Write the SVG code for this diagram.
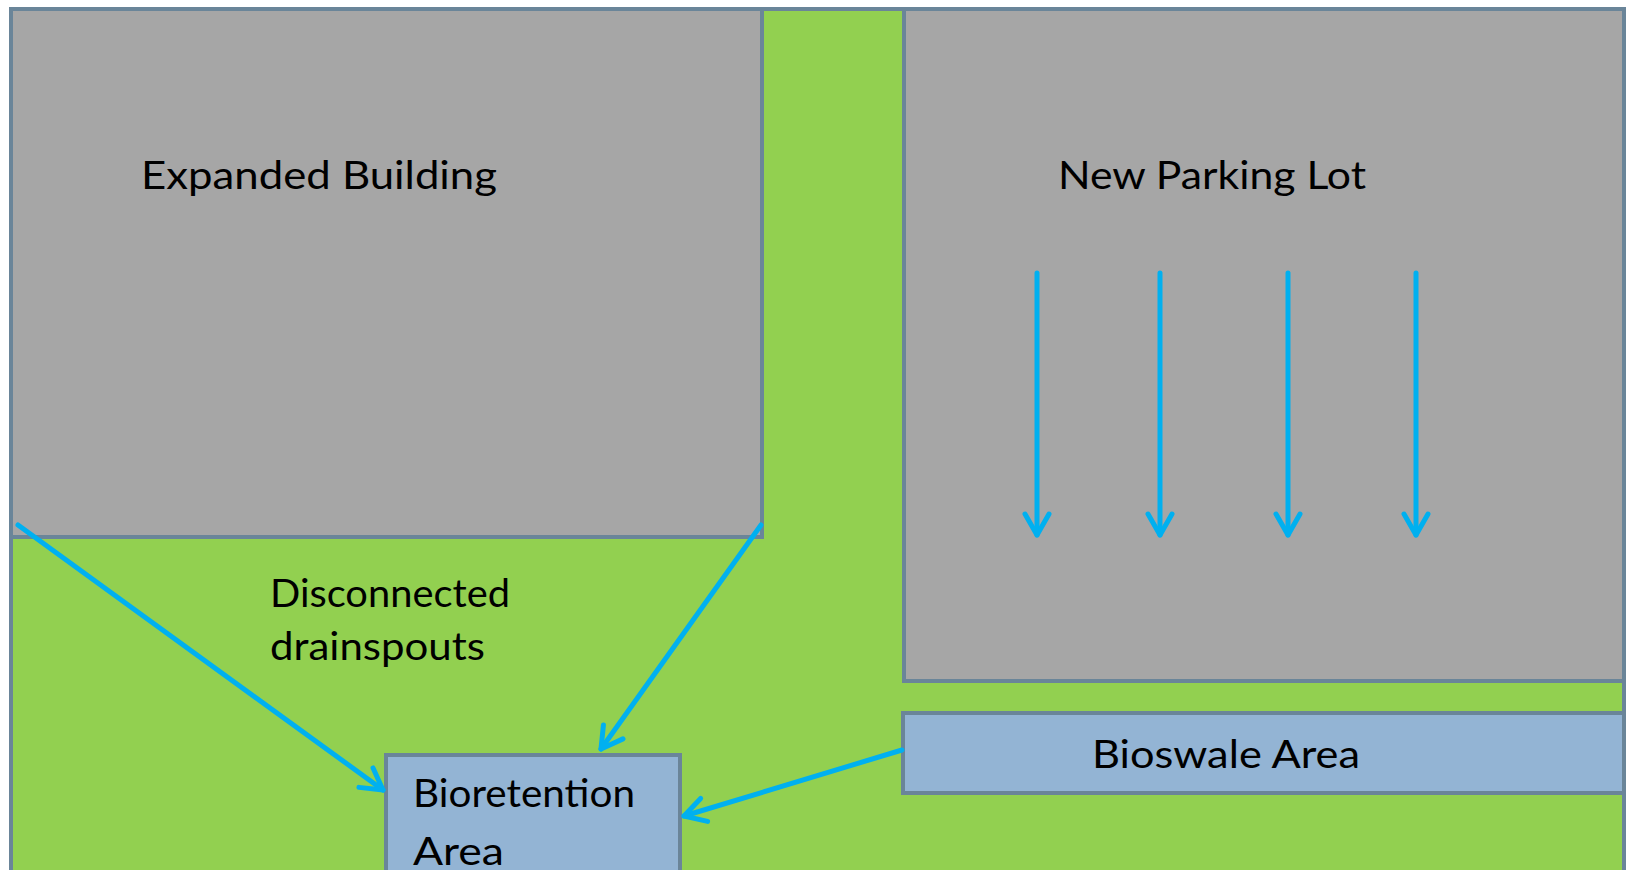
<svg xmlns="http://www.w3.org/2000/svg" width="1626" height="870" viewBox="0 0 1626 870">
<style>
.area{stroke:#6a8599;stroke-width:4}
.gray{fill:#a6a6a6}
.blue{fill:#93b4d4}
.lbl{font-family:Lato,"Open Sans","DejaVu Sans",sans-serif;font-size:38px;fill:#000}
.flow{stroke:#00b0f0;stroke-width:5;fill:none;stroke-linecap:round;marker-end:url(#ah)}
</style>
<defs>
<marker id="ah" markerUnits="userSpaceOnUse" viewBox="-26 -15 30 30" refX="0" refY="0" markerWidth="30" markerHeight="30" orient="auto">
<path d="M-21,-12 L0,0 L-21,12" fill="none" stroke="#00b0f0" stroke-width="5" stroke-linecap="round" stroke-linejoin="round"/>
</marker>
</defs>
<rect width="1626" height="870" fill="#ffffff"/>
<g id="site"><rect class="area" x="11" y="9" width="1613" height="875" fill="#92d050"/></g>
<g id="building">
<rect class="area gray" x="11" y="9" width="751" height="528"/>
<text class="lbl" x="141" y="189" textLength="356" lengthAdjust="spacingAndGlyphs">Expanded Building</text>
</g>
<g id="parking">
<rect class="area gray" x="904" y="9" width="720" height="672"/>
<text class="lbl" x="1058" y="189" textLength="308" lengthAdjust="spacingAndGlyphs">New Parking Lot</text>
</g>
<g id="drainspouts-label">
<text class="lbl" x="270" y="607" textLength="240" lengthAdjust="spacingAndGlyphs">Disconnected</text>
<text class="lbl" x="270" y="660" textLength="215" lengthAdjust="spacingAndGlyphs">drainspouts</text>
</g>
<g id="bioswale">
<rect class="area blue" x="903" y="713" width="721" height="80"/>
<text class="lbl" x="1092" y="768" textLength="268" lengthAdjust="spacingAndGlyphs">Bioswale Area</text>
</g>
<g id="bioretention">
<rect class="area blue" x="386" y="755" width="294" height="130"/>
<text class="lbl" x="413" y="807" textLength="222" lengthAdjust="spacingAndGlyphs">Bioretention</text>
<text class="lbl" x="413" y="865" textLength="91" lengthAdjust="spacingAndGlyphs">Area</text>
</g>
<g id="connectors">
<line class="flow" x1="18" y1="525" x2="383" y2="790"/>
<line class="flow" x1="761" y1="525" x2="601" y2="749"/>
<line class="flow" x1="902" y1="750" x2="684" y2="816"/>
<line class="flow" x1="1037" y1="273" x2="1037" y2="535"/>
<line class="flow" x1="1160" y1="273" x2="1160" y2="535"/>
<line class="flow" x1="1288" y1="273" x2="1288" y2="535"/>
<line class="flow" x1="1416" y1="273" x2="1416" y2="535"/>
</g>
</svg>
